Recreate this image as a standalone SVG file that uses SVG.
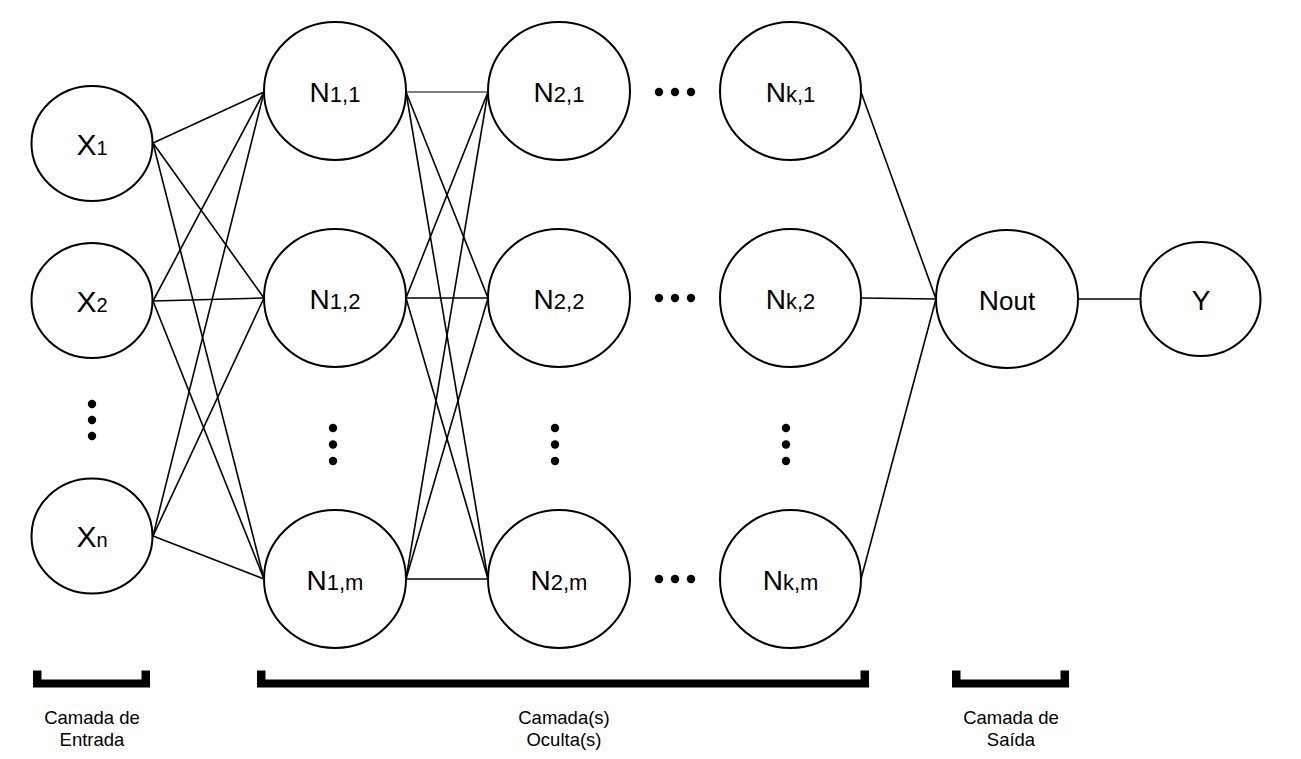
<svg xmlns="http://www.w3.org/2000/svg" width="1301" height="759" viewBox="0 0 1301 759">
<style>
.node{fill:#fff;stroke:#000;stroke-width:2}
.lbl{font-family:"Liberation Sans",Arial,sans-serif;font-size:28px;text-anchor:middle;fill:#000}
.xl{font-size:30px}
.sub{font-size:22px}
.xsub{font-size:20px}
.cap{font-family:"Liberation Sans",Arial,sans-serif;font-size:18.5px;text-anchor:middle;fill:#000}
.conn line{stroke:#000;stroke-width:1.6}
.dot{fill:#000}
.br{fill:#000}
</style>
<rect width="1301" height="759" fill="#fff"/>
<g id="connectors" class="conn">
  <line x1="153" y1="143" x2="264" y2="92"/>
  <line x1="153" y1="143" x2="264" y2="298"/>
  <line x1="153" y1="143" x2="264" y2="579"/>
  <line x1="153" y1="301" x2="264" y2="92"/>
  <line x1="153" y1="301" x2="264" y2="298"/>
  <line x1="153" y1="301" x2="264" y2="579"/>
  <line x1="153" y1="536" x2="264" y2="92"/>
  <line x1="153" y1="536" x2="264" y2="298"/>
  <line x1="153" y1="536" x2="264" y2="579"/>
  <line x1="406" y1="92" x2="488" y2="92" style="stroke-width:1.1"/>
  <line x1="406" y1="92" x2="488" y2="298"/>
  <line x1="406" y1="92" x2="488" y2="579"/>
  <line x1="406" y1="298" x2="488" y2="92"/>
  <line x1="406" y1="298" x2="488" y2="298"/>
  <line x1="406" y1="298" x2="488" y2="579"/>
  <line x1="406" y1="579" x2="488" y2="92"/>
  <line x1="406" y1="579" x2="488" y2="298"/>
  <line x1="406" y1="579" x2="488" y2="579"/>
  <line x1="861" y1="92" x2="936" y2="299"/>
  <line x1="861" y1="298" x2="936" y2="299"/>
  <line x1="861" y1="579" x2="936" y2="299"/>
  <line x1="1078" y1="299" x2="1141" y2="299"/>
</g>
<g id="x1"><ellipse class="node" cx="92" cy="143.5" rx="60.5" ry="57.5"/><text class="lbl xl" x="92" y="155">X<tspan class="xsub">1</tspan></text></g>
<g id="x2"><ellipse class="node" cx="92" cy="300.5" rx="60.5" ry="57.5"/><text class="lbl xl" x="92" y="312">X<tspan class="xsub">2</tspan></text></g>
<g id="xn"><ellipse class="node" cx="92" cy="536" rx="60.5" ry="57.5"/><text class="lbl xl" x="92" y="547">X<tspan class="xsub">n</tspan></text></g>
<g id="n11"><ellipse class="node" cx="335" cy="91" rx="71" ry="69"/><text class="lbl" x="335" y="102">N<tspan class="sub">1,1</tspan></text></g>
<g id="n12"><ellipse class="node" cx="335" cy="298" rx="71" ry="69"/><text class="lbl" x="335" y="309">N<tspan class="sub">1,2</tspan></text></g>
<g id="n1m"><ellipse class="node" cx="335" cy="579" rx="71" ry="69"/><text class="lbl" x="335" y="590">N<tspan class="sub">1,m</tspan></text></g>
<g id="n21"><ellipse class="node" cx="559" cy="91" rx="71" ry="69"/><text class="lbl" x="559" y="102">N<tspan class="sub">2,1</tspan></text></g>
<g id="n22"><ellipse class="node" cx="559" cy="298" rx="71" ry="69"/><text class="lbl" x="559" y="309">N<tspan class="sub">2,2</tspan></text></g>
<g id="n2m"><ellipse class="node" cx="559" cy="579" rx="71" ry="69"/><text class="lbl" x="559" y="590">N<tspan class="sub">2,m</tspan></text></g>
<g id="nk1"><ellipse class="node" cx="790.5" cy="91" rx="70.5" ry="69"/><text class="lbl" x="790.5" y="102">N<tspan class="sub">k,1</tspan></text></g>
<g id="nk2"><ellipse class="node" cx="790.5" cy="298" rx="70.5" ry="69"/><text class="lbl" x="790.5" y="309">N<tspan class="sub">k,2</tspan></text></g>
<g id="nkm"><ellipse class="node" cx="790.5" cy="579" rx="70.5" ry="69"/><text class="lbl" x="790.5" y="590">N<tspan class="sub">k,m</tspan></text></g>
<g id="nout"><ellipse class="node" cx="1007" cy="299" rx="71" ry="69"/><text class="lbl" x="1007" y="310">N<tspan style="font-size:26px">out</tspan></text></g>
<g id="y"><ellipse class="node" cx="1200.5" cy="299" rx="60" ry="57"/><text class="lbl" x="1201" y="310">Y</text></g>
<g id="ellipses" class="dot">
  <circle cx="92" cy="404" r="4.2"/><circle cx="92" cy="420" r="4.2"/><circle cx="92" cy="436" r="4.2"/>
  <circle cx="333" cy="428" r="4.2"/><circle cx="333" cy="444.5" r="4.2"/><circle cx="333" cy="461" r="4.2"/>
  <circle cx="555" cy="428" r="4.2"/><circle cx="555" cy="444.5" r="4.2"/><circle cx="555" cy="461" r="4.2"/>
  <circle cx="786" cy="428" r="4.2"/><circle cx="786" cy="444.5" r="4.2"/><circle cx="786" cy="461" r="4.2"/>
  <circle cx="659" cy="92" r="4.2"/><circle cx="675" cy="92" r="4.2"/><circle cx="691" cy="92" r="4.2"/>
  <circle cx="659" cy="298" r="4.2"/><circle cx="675" cy="298" r="4.2"/><circle cx="691" cy="298" r="4.2"/>
  <circle cx="659" cy="579" r="4.2"/><circle cx="675" cy="579" r="4.2"/><circle cx="691" cy="579" r="4.2"/>
</g>
<g id="bracket-input">
  <path class="br" d="M33,670.5 h8.5 v9 h100 v-9 h8.5 v17 h-117 z"/>
  <text class="cap" x="92" y="724">Camada de</text>
  <text class="cap" x="92" y="746">Entrada</text>
</g>
<g id="bracket-hidden">
  <path class="br" d="M257,670.5 h8.5 v9 h595 v-9 h8.5 v17 h-612 z"/>
  <text class="cap" x="564" y="724">Camada(s)</text>
  <text class="cap" x="564" y="746">Oculta(s)</text>
</g>
<g id="bracket-output">
  <path class="br" d="M952,670.5 h8.5 v9 h100 v-9 h8.5 v17 h-117 z"/>
  <text class="cap" x="1011" y="724">Camada de</text>
  <text class="cap" x="1011" y="746">Saída</text>
</g>
</svg>
